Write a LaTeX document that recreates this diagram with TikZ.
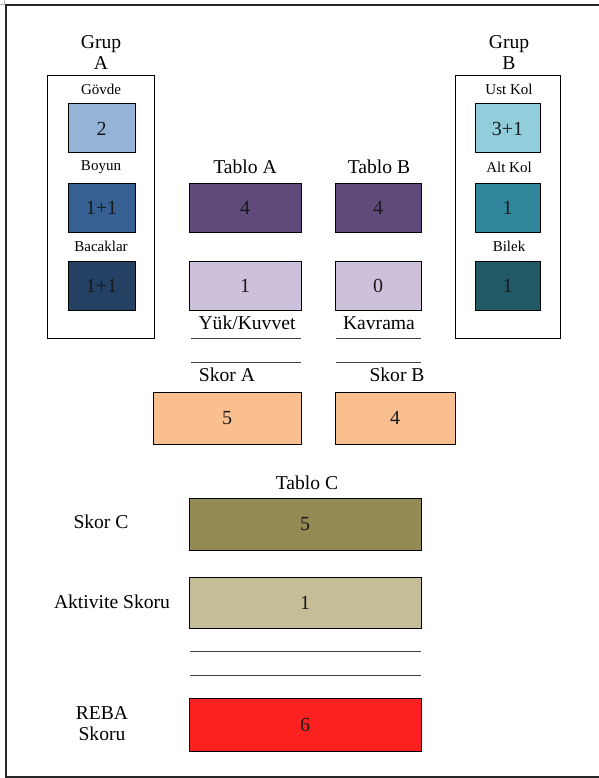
\documentclass[tikz,border=0pt]{standalone}
\usepackage{fontspec}
\setmainfont{Liberation Serif}
\definecolor{cGovde}{HTML}{95B3D7}
\definecolor{cBoyun}{HTML}{366092}
\definecolor{cBacak}{HTML}{244062}
\definecolor{cTablo}{HTML}{604A7B}
\definecolor{cLight}{HTML}{CCC0DA}
\definecolor{cSkor}{HTML}{FABF8F}
\definecolor{cUst}{HTML}{92CDDC}
\definecolor{cAlt}{HTML}{31869B}
\definecolor{cBilek}{HTML}{215967}
\definecolor{cSkorC}{HTML}{948A54}
\definecolor{cAkt}{HTML}{C4BD97}
\definecolor{cReba}{HTML}{FF2020}
\begin{document}
\begin{tikzpicture}[x=1pt,y=-1pt,
  valbox/.style={draw=black,line width=1pt,inner sep=0pt,font=\fontsize{20}{22}\selectfont,text=black!90},
  grpbox/.style={draw=black,line width=1pt,inner sep=0pt},
  biglbl/.style={inner sep=0pt,font=\fontsize{19.6}{21}\selectfont,align=center},
  smalllbl/.style={inner sep=0pt,font=\fontsize{15}{16}\selectfont},
  rule/.style={draw=black!75,line width=1pt}]
\useasboundingbox (0,0) rectangle (598,778);
% frame
\draw[black!30,line width=0.6pt] (4,0) -- (4,4) -- (0,4);
\draw[black!85,line width=1.3pt] (6,820) -- (6,5) -- (640,5);
\draw[black!85,line width=1.3pt] (6,777) -- (640,777);
% Group A
\node[grpbox,minimum width=107pt,minimum height=262pt] (gA) at (100.5,207) {};
\node[biglbl] (gAl) at (101,53) {Grup\\A};
\node[smalllbl] (lGovde) at (101,89) {Gövde};
\node[valbox,fill=cGovde,minimum width=67pt,minimum height=49pt] (bGovde) at (101.5,128.5) {2};
\node[smalllbl] (lBoyun) at (101,167) {Boyun};
\node[valbox,fill=cBoyun,minimum width=67pt,minimum height=49pt] (bBoyun) at (101.5,207.5) {1+1};
\node[smalllbl] (lBacak) at (101,246) {Bacaklar};
\node[valbox,fill=cBacak,minimum width=67pt,minimum height=49pt] (bBacak) at (101.5,285.5) {1+1};
% Tablo A
\node[biglbl] (ltA) at (245,167) {Tablo A};
\node[valbox,fill=cTablo,minimum width=112pt,minimum height=49pt] (btA) at (245,207.5) {4};
\node[valbox,fill=cLight,minimum width=112pt,minimum height=49pt] (bYuk) at (245,285.5) {1};
\node[biglbl] (lYuk) at (247,323) {Yük/Kuvvet};
\coordinate (a1l) at (191,338); \coordinate (a1r) at (301,338);
\coordinate (a2l) at (191,362); \coordinate (a2r) at (301,362);
\draw[rule] (a1l) -- (a1r);
\draw[rule] (a2l) -- (a2r);
\node[biglbl] (lSkorA) at (227,375) {Skor A};
\node[valbox,fill=cSkor,minimum width=148pt,minimum height=52pt] (bSkorA) at (227,418) {5};
% Tablo B
\node[biglbl] (ltB) at (379,167) {Tablo B};
\node[valbox,fill=cTablo,minimum width=86pt,minimum height=49pt] (btB) at (378,207.5) {4};
\node[valbox,fill=cLight,minimum width=86pt,minimum height=49pt] (bKav) at (378,285.5) {0};
\node[biglbl] (lKav) at (379,323) {Kavrama};
\coordinate (b1l) at (336,338); \coordinate (b1r) at (421,338);
\coordinate (b2l) at (336,362); \coordinate (b2r) at (421,362);
\draw[rule] (b1l) -- (b1r);
\draw[rule] (b2l) -- (b2r);
\node[biglbl] (lSkorB) at (397,375) {Skor B};
\node[valbox,fill=cSkor,minimum width=120pt,minimum height=52pt] (bSkorB) at (395,418) {4};
% Group B
\node[grpbox,minimum width=105pt,minimum height=262pt] (gB) at (507.5,207) {};
\node[biglbl] (gBl) at (509,53) {Grup\\B};
\node[smalllbl] (lUst) at (509,89) {Ust Kol};
\node[valbox,fill=cUst,minimum width=65pt,minimum height=49pt] (bUst) at (507.5,128.5) {3+1};
\node[smalllbl] (lAlt) at (509,167) {Alt Kol};
\node[valbox,fill=cAlt,minimum width=65pt,minimum height=49pt] (bAlt) at (507.5,207.5) {1};
\node[smalllbl] (lBilek) at (509,246) {Bilek};
\node[valbox,fill=cBilek,minimum width=65pt,minimum height=49pt] (bBilek) at (507.5,285.5) {1};
% Tablo C
\node[biglbl] (ltC) at (307,483) {Tablo C};
\node[biglbl] (lSkorC) at (101,522) {Skor C};
\node[valbox,fill=cSkorC,minimum width=232pt,minimum height=52pt] (bSkorC) at (305,524) {5};
\node[biglbl] (lAkt) at (112,602) {Aktivite Skoru};
\node[valbox,fill=cAkt,minimum width=232pt,minimum height=51pt] (bAkt) at (305,602.5) {1};
\coordinate (c1l) at (190,651); \coordinate (c1r) at (421,651);
\coordinate (c2l) at (190,675); \coordinate (c2r) at (421,675);
\draw[rule] (c1l) -- (c1r);
\draw[rule] (c2l) -- (c2r);
\node[biglbl] (lReba) at (102,724) {REBA\\Skoru};
\node[valbox,fill=cReba,minimum width=232pt,minimum height=53pt] (bReba) at (305,724.5) {6};
\end{tikzpicture}
\end{document}
